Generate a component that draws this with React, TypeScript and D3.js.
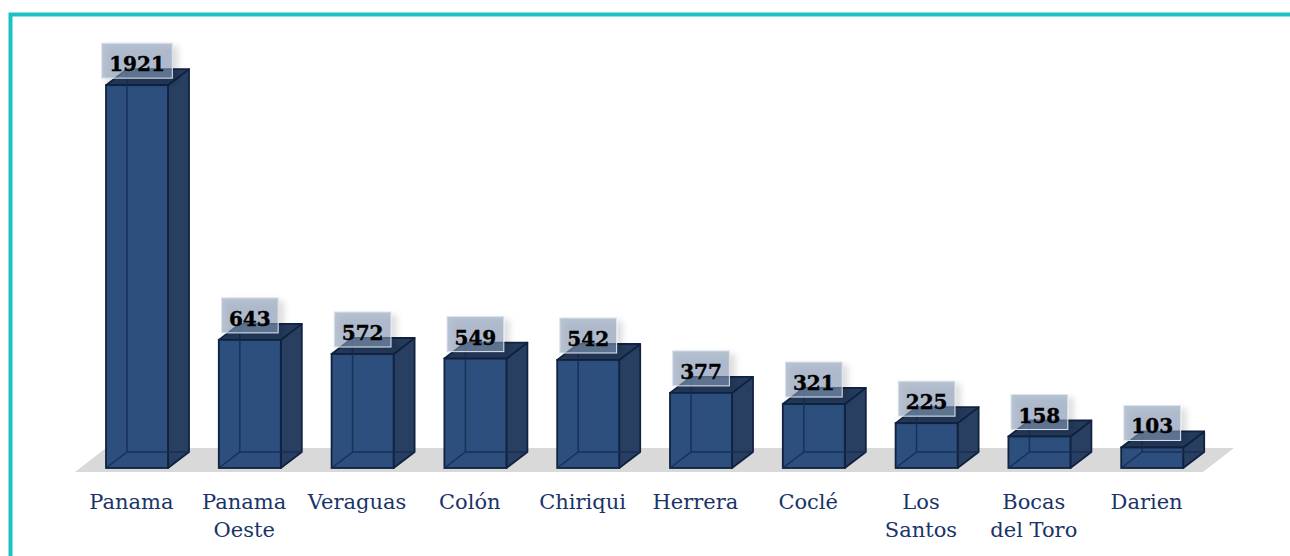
import React, { useEffect, useRef } from "react";
import * as d3 from "d3";

const categories = ["Panama", "Panama\nOeste", "Veraguas", "Colón", "Chiriqui", "Herrera", "Coclé", "Los\nSantos", "Bocas\ndel Toro", "Darien"];
const values = [1921, 643, 572, 549, 542, 377, 321, 225, 158, 103];

const W = 1290;
const H = 556;

export default function App() {
  const ref = useRef<SVGSVGElement>(null);

  useEffect(() => {
    const svg = d3.select(ref.current);
    svg.selectAll("*").remove();

    const defs = svg.append("defs");
    const f = defs.append("filter").attr("id", "sh").attr("x", "-30%").attr("y", "-30%").attr("width", "160%").attr("height", "160%");
    f.append("feDropShadow").attr("dx", 5).attr("dy", 4).attr("stdDeviation", 3).attr("flood-color", "#000").attr("flood-opacity", 0.22);

    // frame
    svg.append("rect").attr("x", 10.5).attr("y", 14.5).attr("width", W + 20).attr("height", H + 20)
      .attr("fill", "none").attr("stroke", "#1cc1c7").attr("stroke-width", 4);

    const floorY = 472;
    const x = d3.scaleBand<string>().domain(categories).range([75, 1203]).paddingInner(0).paddingOuter(0);
    const y = d3.scaleLinear().domain([0, 2000]).range([468, 468 - 2000 * 0.1993]);

    const fdx = 31, fdy = -24;
    svg.append("polygon")
      .attr("points", [[75, floorY], [1203, floorY], [1203 + fdx, floorY + fdy], [75 + fdx, floorY + fdy]].map(p => p.join(",")).join(" "))
      .attr("fill", "#d9d9d9");

    const dx = 21, dy = -16;
    const bw = 62;
    const edge = "#10223f";

    const g = svg.append("g");
    categories.forEach((c, i) => {
      const bs = x(c)!;
      const x0 = bs + 31;
      const x1 = x0 + bw;
      const y0 = y(0);
      const yt = y(values[i]);
      const bar = g.append("g");
      const poly = (pts: number[][]) => pts.map(p => p.join(",")).join(" ");
      bar.append("polygon").attr("points", poly([[x1, yt], [x1 + dx, yt + dy], [x1 + dx, y0 + dy], [x1, y0]]))
        .attr("fill", "#283f62").attr("stroke", edge).attr("stroke-width", 1.8).attr("stroke-linejoin", "round");
      bar.append("polygon").attr("points", poly([[x0, yt], [x0 + dx, yt + dy], [x1 + dx, yt + dy], [x1, yt]]))
        .attr("fill", "#243b5d").attr("stroke", edge).attr("stroke-width", 1.8).attr("stroke-linejoin", "round");
      bar.append("rect").attr("x", x0).attr("y", yt).attr("width", bw).attr("height", y0 - yt)
        .attr("fill", "#2d4f7d").attr("stroke", edge).attr("stroke-width", 1.8);
      bar.append("path")
        .attr("d", `M${x0},${y0}L${x0 + dx},${y0 + dy}L${x1 + dx},${y0 + dy}M${x0 + dx},${y0 + dy}L${x0 + dx},${yt + dy}`)
        .attr("fill", "none").attr("stroke", "#152d55").attr("stroke-width", 1.5).attr("opacity", 0.9);
    });

    categories.forEach((c) => {
      const cx = x(c)! + x.bandwidth() / 2;
      const t = svg.append("text").attr("x", cx).attr("y", 509).attr("text-anchor", "middle")
        .attr("font-family", "'DejaVu Serif', serif").attr("font-size", 21).attr("fill", "#1a3469");
      c.split("\n").forEach((line, k) => {
        t.append("tspan").attr("x", cx).attr("y", 509 + k * 28).text(line);
      });
    });

    categories.forEach((c, i) => {
      const cx = x(c)! + 31 + bw / 2;
      const yt = y(values[i]);
      const lg = svg.append("g");
      const rect = lg.append("rect");
      const txt = lg.append("text").attr("x", cx).attr("y", yt - 42 + 28).attr("text-anchor", "middle")
        .attr("font-family", "'DejaVu Serif', serif").attr("font-weight", "bold").attr("font-size", 20)
        .attr("fill", "#000").attr("stroke", "#000").attr("stroke-width", 0.4).text(String(values[i]));
      const tw = (txt.node() as SVGTextElement).getComputedTextLength();
      const bwid = tw + 15;
      rect.attr("x", cx - bwid / 2).attr("y", yt - 42).attr("width", bwid).attr("height", 35)
        .attr("fill", "rgba(133,153,181,0.58)").attr("stroke", "#dde4ee").attr("stroke-width", 1)
        .attr("filter", "url(#sh)");
    });
  }, []);

  return (
    <svg ref={ref} width={W} height={H} style={{ position: "absolute", left: 0, top: 0, background: "#fff" }} />
  );
}
